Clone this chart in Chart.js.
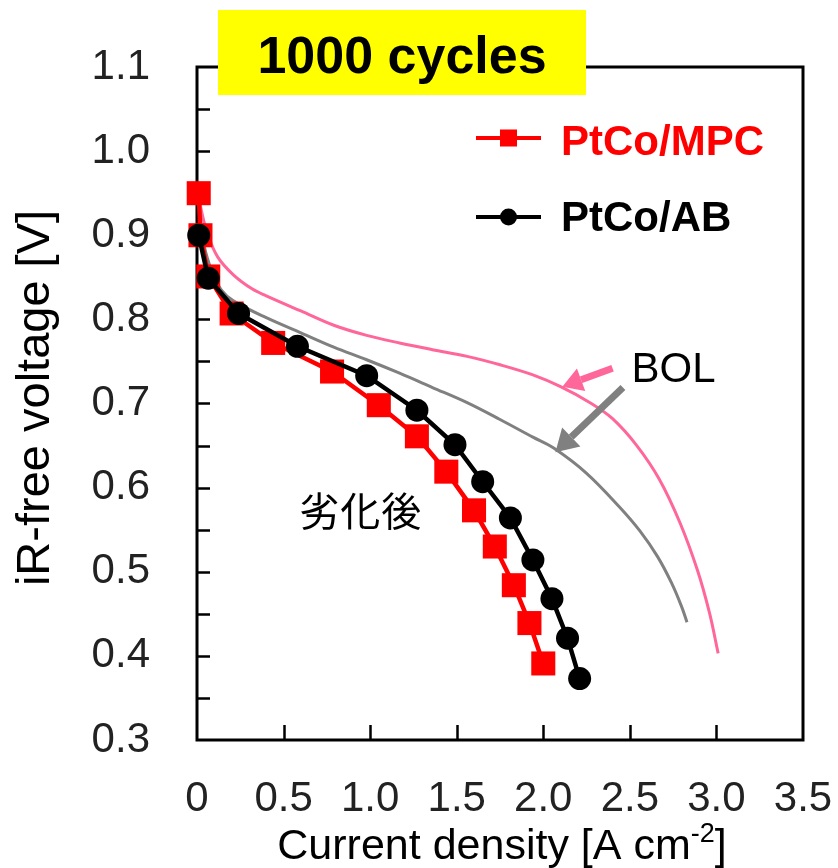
<!DOCTYPE html>
<html>
<head>
<meta charset="utf-8">
<script src="https://cdn.jsdelivr.net/npm/chart.js@4.4.1/dist/chart.umd.min.js"></script>
<style>
  html, body { margin: 0; padding: 0; background: #fff; }
  #wrap { width: 838px; height: 868px; }
</style>
</head>
<body>
<div id="wrap"><canvas id="chart" width="838" height="868"></canvas></div>
<script>
// after 1000 cycles, markers
const mpcX = [0.01, 0.02, 0.065, 0.20, 0.44, 0.78, 1.05, 1.27, 1.44, 1.60, 1.72, 1.83, 1.92, 2.00];
const mpcV = [0.950, 0.900, 0.851, 0.807, 0.772, 0.738, 0.698, 0.661, 0.619, 0.573, 0.530, 0.484, 0.439, 0.391];
const abX = [0.01, 0.065, 0.24, 0.58, 0.98, 1.27, 1.49, 1.65, 1.81, 1.94, 2.05, 2.14, 2.21];
const abV = [0.900, 0.849, 0.807, 0.768, 0.733, 0.692, 0.651, 0.607, 0.564, 0.514, 0.468, 0.421, 0.373];

// BOL curves (thin lines)
const bolMpcX = [0.005, 0.03, 0.06, 0.12, 0.21, 0.32, 0.40, 0.60, 0.79, 0.98, 1.17, 1.36, 1.56, 1.75, 1.94, 2.10, 2.27, 2.40, 2.54, 2.67, 2.79, 2.89, 2.96, 3.01];
const bolMpcV = [0.950, 0.925, 0.902, 0.874, 0.853, 0.836, 0.828, 0.810, 0.793, 0.781, 0.772, 0.764, 0.756, 0.746, 0.734, 0.720, 0.701, 0.682, 0.650, 0.610, 0.558, 0.502, 0.451, 0.403];
const bolAbX = [0.005, 0.03, 0.05, 0.09, 0.14, 0.21, 0.40, 0.60, 0.79, 0.98, 1.17, 1.36, 1.56, 1.75, 1.94, 2.06, 2.25, 2.44, 2.56, 2.66, 2.74, 2.80, 2.83];
const bolAbV = [0.950, 0.900, 0.880, 0.855, 0.835, 0.822, 0.802, 0.784, 0.767, 0.752, 0.736, 0.719, 0.701, 0.681, 0.660, 0.647, 0.617, 0.577, 0.548, 0.518, 0.487, 0.458, 0.440];

const xTicks = [0, 0.5, 1.0, 1.5, 2.0, 2.5, 3.0, 3.5];
const yTicks = [0.3, 0.4, 0.5, 0.6, 0.7, 0.8, 0.9, 1.0, 1.1];

const RED = '#ff0000';
const PINK = '#ff6699';
const GRAY = '#808080';
const FONT = '"Liberation Sans", Arial, sans-serif';

const pts = (xs, ys) => xs.map((x, i) => ({ x, y: ys[i] }));

// frame + inward ticks, drawn under the data
const framePlugin = {
  id: 'frame',
  beforeDatasetsDraw(chart) {
    const { ctx, chartArea: a, scales: { x, y } } = chart;
    ctx.save();
    ctx.strokeStyle = '#000';
    ctx.lineWidth = 3;
    ctx.strokeRect(a.left, a.top, a.right - a.left, a.bottom - a.top);
    ctx.lineWidth = 2.5;
    ctx.beginPath();
    for (let v = 0.35; v < 1.099; v += 0.05) {
      const py = Math.round(y.getPixelForValue(v)) + 0.5;
      ctx.moveTo(a.left, py);
      ctx.lineTo(a.left + 13, py);
    }
    xTicks.slice(1, -1).forEach(v => {
      const px = Math.round(x.getPixelForValue(v)) + 0.5;
      ctx.moveTo(px, a.bottom);
      ctx.lineTo(px, a.bottom - 15);
    });
    ctx.stroke();
    ctx.restore();
  }
};

// titles, legend, labels, arrows, yellow box
const notesPlugin = {
  id: 'notes',
  afterDraw(chart) {
    const { ctx, chartArea: a, scales: { x, y } } = chart;
    const X = v => x.getPixelForValue(v);
    const Y = v => y.getPixelForValue(v);
    ctx.save();

    // y title
    ctx.save();
    ctx.translate(49, 398);
    ctx.rotate(-Math.PI / 2);
    ctx.font = `47px ${FONT}`;
    ctx.fillStyle = '#000';
    ctx.textAlign = 'center';
    ctx.textBaseline = 'alphabetic';
    ctx.fillText('iR-free voltage [V]', 0, 0);
    ctx.restore();

    // x title with superscript
    ctx.fillStyle = '#000';
    ctx.textBaseline = 'alphabetic';
    ctx.textAlign = 'left';
    const main = 'Current density [A cm';
    ctx.font = `43px ${FONT}`;
    const w1 = ctx.measureText(main).width;
    ctx.font = `27px ${FONT}`;
    const w2 = ctx.measureText('-2').width;
    ctx.font = `43px ${FONT}`;
    const w3 = ctx.measureText(']').width;
    const sx = (a.left + a.right) / 2 + 2 - (w1 + w2 + w3) / 2;
    const by = 859;
    ctx.fillText(main, sx, by);
    ctx.font = `27px ${FONT}`;
    ctx.fillText('-2', sx + w1, by - 17);
    ctx.font = `43px ${FONT}`;
    ctx.fillText(']', sx + w1 + w2, by);

    // legend
    const lx0 = a.left + 279, lx1 = a.left + 344;
    ctx.lineWidth = 4;
    ctx.strokeStyle = RED;
    ctx.beginPath(); ctx.moveTo(lx0, 138); ctx.lineTo(lx1, 138); ctx.stroke();
    ctx.fillStyle = RED;
    ctx.fillRect((lx0 + lx1) / 2 - 8.5, 138 - 8.5, 17, 17);
    ctx.strokeStyle = '#000';
    ctx.beginPath(); ctx.moveTo(lx0, 217); ctx.lineTo(lx1, 217); ctx.stroke();
    ctx.fillStyle = '#000';
    ctx.beginPath(); ctx.arc((lx0 + lx1) / 2, 217, 8.5, 0, Math.PI * 2); ctx.fill();

    ctx.font = `bold 42px ${FONT}`;
    ctx.fillStyle = RED;
    ctx.fillText('PtCo/MPC', 561, 155);
    ctx.fillStyle = '#000';
    ctx.fillText('PtCo/AB', 561, 231);

    // BOL label and arrows
    ctx.font = `42px ${FONT}`;
    ctx.fillStyle = '#000';
    ctx.fillText('BOL', X(2.51), Y(0.745) + 16);
    const arrow = (x0, y0, x1, y1, color, lw, head) => {
      const ang = Math.atan2(y1 - y0, x1 - x0);
      const bx = x1 - head * Math.cos(ang), byy = y1 - head * Math.sin(ang);
      ctx.strokeStyle = color;
      ctx.fillStyle = color;
      ctx.lineWidth = lw;
      ctx.lineCap = 'butt';
      ctx.beginPath(); ctx.moveTo(x0, y0); ctx.lineTo(bx, byy); ctx.stroke();
      ctx.beginPath();
      ctx.moveTo(x1, y1);
      ctx.lineTo(bx + head * 0.6 * Math.sin(ang), byy - head * 0.6 * Math.cos(ang));
      ctx.lineTo(bx - head * 0.6 * Math.sin(ang), byy + head * 0.6 * Math.cos(ang));
      ctx.closePath();
      ctx.fill();
    };
    arrow(X(2.40), Y(0.742), X(2.11), Y(0.720), PINK, 7, 20);
    arrow(X(2.46), Y(0.719), X(2.07), Y(0.642), GRAY, 7, 22);

    // 劣化後
    ctx.font = `40px "Noto Sans CJK JP", sans-serif`;
    ctx.fillStyle = '#000';
    ctx.textBaseline = 'middle';
    const cx0 = X(0.59);
    ['劣', '化', '後'].forEach((ch, i) => ctx.fillText(ch, cx0 + i * 41, Y(0.573)));

    // yellow box
    ctx.fillStyle = '#ffff00';
    ctx.fillRect(218, 10, 368, 85);
    ctx.fillStyle = '#000';
    ctx.font = `bold 52px ${FONT}`;
    ctx.textAlign = 'center';
    ctx.textBaseline = 'alphabetic';
    ctx.fillText('1000 cycles', 402, 73);

    ctx.restore();
  }
};

Chart.defaults.font.family = FONT;

new Chart(document.getElementById('chart'), {
  type: 'scatter',
  data: {
    datasets: [
      {
        label: 'PtCo/AB',
        data: pts(abX, abV),
        showLine: true,
        borderColor: '#000',
        backgroundColor: '#000',
        borderWidth: 4.5,
        pointStyle: 'circle',
        pointRadius: 11.5,
        pointBorderWidth: 0,
        tension: 0,
        clip: false
      },
      {
        label: 'PtCo/MPC',
        data: pts(mpcX, mpcV),
        showLine: true,
        borderColor: RED,
        backgroundColor: RED,
        borderWidth: 4.5,
        pointStyle: 'rect',
        pointRadius: 17,
        pointBorderWidth: 0,
        tension: 0,
        clip: false
      },
      {
        label: 'BOL AB',
        data: pts(bolAbX, bolAbV),
        showLine: true,
        borderColor: GRAY,
        borderWidth: 3,
        pointRadius: 0,
        tension: 0.35,
        clip: false
      },
      {
        label: 'BOL MPC',
        data: pts(bolMpcX, bolMpcV),
        showLine: true,
        borderColor: PINK,
        borderWidth: 3,
        pointRadius: 0,
        tension: 0.35,
        clip: false
      }
    ]
  },
  options: {
    responsive: false,
    animation: false,
    devicePixelRatio: 1,
    layout: { padding: { left: 0, top: 67, right: 35, bottom: 0 } },
    plugins: {
      legend: { display: false },
      tooltip: { enabled: false }
    },
    scales: {
      x: {
        type: 'linear',
        min: 0,
        max: 3.5,
        afterFit: s => { s.height = 128; s.paddingLeft = 0; s.paddingRight = 0; },
        afterBuildTicks: s => { s.ticks = xTicks.map(v => ({ value: v })); },
        grid: { display: false, drawTicks: false },
        border: { display: false },
        ticks: {
          color: '#222',
          font: { size: 42 },
          padding: 34,
          maxRotation: 0,
          callback: v => v === 0 ? '0' : v.toFixed(1)
        }
      },
      y: {
        type: 'linear',
        min: 0.3,
        max: 1.1,
        afterFit: s => { s.width = 197; s.paddingTop = 0; s.paddingBottom = 0; },
        afterBuildTicks: s => { s.ticks = yTicks.map(v => ({ value: v })); },
        grid: { display: false, drawTicks: false },
        border: { display: false },
        ticks: {
          color: '#222',
          font: { size: 42 },
          padding: 47,
          callback: v => v.toFixed(1)
        }
      }
    }
  },
  plugins: [framePlugin, notesPlugin]
});
</script>
</body>
</html>
